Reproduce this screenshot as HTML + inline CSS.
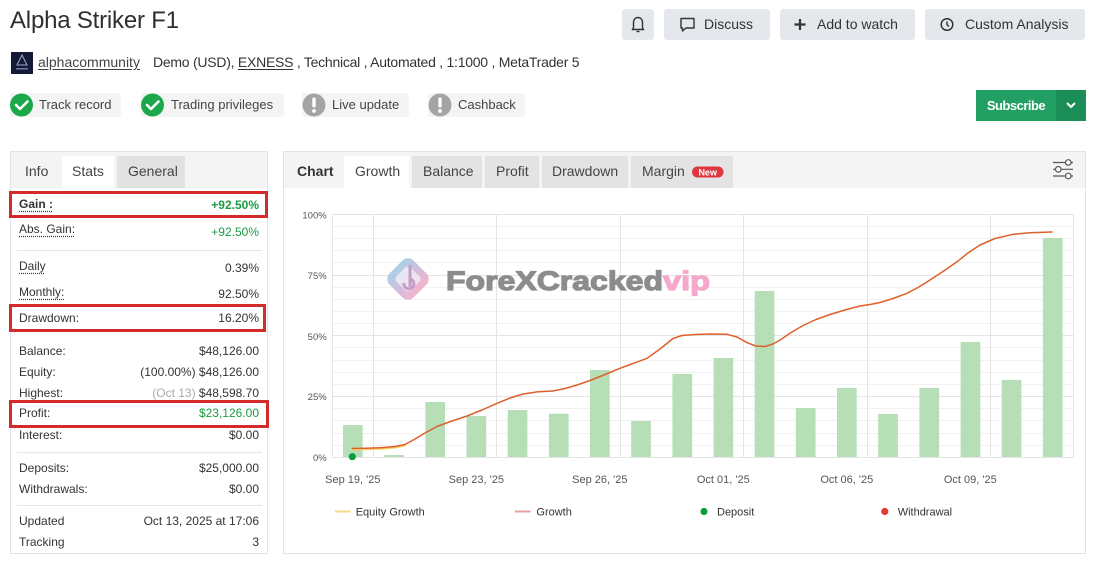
<!DOCTYPE html>
<html><head><meta charset="utf-8">
<style>
*{margin:0;padding:0;box-sizing:border-box}
body{width:1095px;height:563px;background:#fff;font-family:"Liberation Sans",Arial,sans-serif;color:#333;position:relative;overflow:hidden}
.a{position:absolute;white-space:nowrap}
.btn{position:absolute;top:9px;height:31px;background:#e4e7eb;border-radius:3px}
.bt{position:absolute;top:16px;font-size:14px;line-height:16px;color:#333}
.badge{position:absolute;top:93px;height:24px;background:#f4f4f4;border-radius:3px}
.bl{position:absolute;top:97px;font-size:13px;line-height:16px;color:#444}
.r{position:absolute;font-size:12px;line-height:16px;color:#333;white-space:nowrap}
.v{position:absolute;right:836px;font-size:12px;line-height:16px;color:#333;white-space:nowrap;text-align:right}
.dl{text-decoration:underline dotted #333;text-underline-offset:3px}
.tab{position:absolute;top:156px;height:32px}
.tt{position:absolute;top:163px;font-size:14px;line-height:16px;color:#444}
.box{position:absolute;border:3px solid #d32b2b}
.sep{position:absolute;left:17px;width:245px;height:1px;background:#e6e6e6}
</style></head><body>

<!-- Title -->
<div class="a" style="left:10px;top:6px;font-size:24px;line-height:30px;color:#2f2f2f;letter-spacing:-0.2px">Alpha Striker F1</div>

<!-- avatar -->
<div class="a" style="left:11px;top:52px;width:22px;height:22px;background:#141a36"></div>
<div class="a" style="left:38px;top:54px;font-size:14px;line-height:17px;color:#444;text-decoration:underline;text-underline-offset:2px">alphacommunity</div>
<div class="a" style="left:153px;top:54px;font-size:14px;line-height:17px;color:#333;letter-spacing:-0.25px">Demo (USD), <span style="text-decoration:underline;text-underline-offset:2px">EXNESS</span> , Technical , Automated , 1:1000 , MetaTrader 5</div>

<!-- badges -->
<div class="badge" style="left:10px;width:111px"></div>
<div class="badge" style="left:141px;width:143px"></div>
<div class="badge" style="left:302px;width:107px"></div>
<div class="badge" style="left:428px;width:97px"></div>
<div class="bl" style="left:39px">Track record</div>
<div class="bl" style="left:171px">Trading privileges</div>
<div class="bl" style="left:332px">Live update</div>
<div class="bl" style="left:458px">Cashback</div>

<!-- top right buttons -->
<div class="btn" style="left:622px;width:32px"></div>
<div class="btn" style="left:664px;width:106px"></div>
<div class="btn" style="left:780px;width:135px"></div>
<div class="btn" style="left:925px;width:160px"></div>
<div class="bt" style="left:704px">Discuss</div>
<div class="bt" style="left:817px">Add to watch</div>
<div class="bt" style="left:965px">Custom Analysis</div>

<!-- subscribe -->
<div class="a" style="left:976px;top:90px;width:110px;height:31px;background:#22a063"></div>
<div class="a" style="left:1056px;top:90px;width:30px;height:31px;background:#1b8d56"></div>
<div class="a" style="left:976px;top:97px;width:80px;text-align:center;font-size:13px;line-height:17px;font-weight:bold;color:#fff;letter-spacing:-0.5px">Subscribe</div>

<!-- left panel -->
<div class="a" style="left:10px;top:151px;width:258px;height:403px;border:1px solid #e3e3e3"></div>
<div class="a" style="left:11px;top:152px;width:256px;height:36px;background:#f4f4f4"></div>
<div class="tab" style="left:62px;width:52px;background:#fff"></div>
<div class="tab" style="left:117px;width:68px;background:#e1e1e1"></div>
<div class="tt" style="left:25px">Info</div>
<div class="tt" style="left:72px">Stats</div>
<div class="tt" style="left:128px">General</div>

<div class="r" style="left:19px;top:196px;font-weight:bold"><span class="dl">Gain :</span></div>
<div class="v" style="top:197px;font-weight:bold;color:#1a9c44">+92.50%</div>
<div class="r" style="left:19px;top:221px"><span class="dl">Abs. Gain:</span></div>
<div class="v" style="top:224px;color:#1a9c44">+92.50%</div>
<div class="sep" style="top:250px"></div>
<div class="r" style="left:19px;top:258px"><span class="dl">Daily</span></div>
<div class="v" style="top:260px">0.39%</div>
<div class="r" style="left:19px;top:284px"><span class="dl">Monthly:</span></div>
<div class="v" style="top:286px">92.50%</div>
<div class="r" style="left:19px;top:310px">Drawdown:</div>
<div class="v" style="top:310px">16.20%</div>
<div class="r" style="left:19px;top:343px">Balance:</div>
<div class="v" style="top:343px">$48,126.00</div>
<div class="r" style="left:19px;top:364px">Equity:</div>
<div class="v" style="top:364px">(100.00%) $48,126.00</div>
<div class="r" style="left:19px;top:385px">Highest:</div>
<div class="v" style="top:385px"><span style="color:#aaa">(Oct 13)</span> $48,598.70</div>
<div class="r" style="left:19px;top:405px">Profit:</div>
<div class="v" style="top:405px;color:#1a9c44">$23,126.00</div>
<div class="r" style="left:19px;top:427px">Interest:</div>
<div class="v" style="top:427px">$0.00</div>
<div class="sep" style="top:452px"></div>
<div class="r" style="left:19px;top:460px">Deposits:</div>
<div class="v" style="top:460px">$25,000.00</div>
<div class="r" style="left:19px;top:481px">Withdrawals:</div>
<div class="v" style="top:481px">$0.00</div>
<div class="sep" style="top:505px"></div>
<div class="r" style="left:19px;top:513px">Updated</div>
<div class="v" style="top:513px">Oct 13, 2025 at 17:06</div>
<div class="r" style="left:19px;top:534px">Tracking</div>
<div class="v" style="top:534px">3</div>

<div class="box" style="left:9px;top:191px;width:259px;height:27px"></div>
<div class="box" style="left:9px;top:304px;width:257px;height:28px"></div>
<div class="box" style="left:9px;top:400px;width:260px;height:28px"></div>

<!-- chart panel -->
<div class="a" style="left:283px;top:151px;width:803px;height:403px;border:1px solid #e3e3e3"></div>
<div class="a" style="left:284px;top:152px;width:801px;height:36px;background:#f4f4f4"></div>
<div class="tab" style="left:344px;width:65px;background:#fff"></div>
<div class="tab" style="left:412px;width:70px;background:#e3e3e3"></div>
<div class="tab" style="left:485px;width:54px;background:#e3e3e3"></div>
<div class="tab" style="left:542px;width:86px;background:#e3e3e3"></div>
<div class="tab" style="left:631px;width:102px;background:#e3e3e3"></div>
<div class="tt" style="left:297px;font-weight:bold;color:#333">Chart</div>
<div class="tt" style="left:355px">Growth</div>
<div class="tt" style="left:423px">Balance</div>
<div class="tt" style="left:496px">Profit</div>
<div class="tt" style="left:552px">Drawdown</div>
<div class="tt" style="left:642px">Margin</div>

<svg class="a" style="left:0;top:0" width="1095" height="563" viewBox="0 0 1095 563" xmlns="http://www.w3.org/2000/svg" font-family="Liberation Sans, Arial, sans-serif">
  <defs>
    <linearGradient id="lg" x1="0" y1="0" x2="1" y2="0">
      <stop offset="0" stop-color="#9cc9e4"/>
      <stop offset="0.5" stop-color="#c9b3d6"/>
      <stop offset="1" stop-color="#f2a7c6"/>
    </linearGradient>
  </defs>

  <!-- badge icons -->
  <circle cx="21.5" cy="105" r="11.5" fill="#1ba84a"/>
  <path d="M16 105 l4 4 l7.5 -7.5" stroke="#fff" stroke-width="2.6" fill="none" stroke-linecap="round" stroke-linejoin="round"/>
  <circle cx="152.5" cy="105" r="11.5" fill="#1ba84a"/>
  <path d="M147 105 l4 4 l7.5 -7.5" stroke="#fff" stroke-width="2.6" fill="none" stroke-linecap="round" stroke-linejoin="round"/>
  <circle cx="314" cy="105" r="11.5" fill="#a4a4a4"/>
  <rect x="312.3" y="97.5" width="3.4" height="10" rx="1.5" fill="#fff"/>
  <circle cx="314" cy="111" r="1.9" fill="#fff"/>
  <circle cx="440" cy="105" r="11.5" fill="#a4a4a4"/>
  <rect x="438.3" y="97.5" width="3.4" height="10" rx="1.5" fill="#fff"/>
  <circle cx="440" cy="111" r="1.9" fill="#fff"/>

  <!-- avatar glyph -->
  <path d="M22 55 l-5 10 h10 z" fill="none" stroke="#9aa6d8" stroke-width="1"/>
  <rect x="16" y="68" width="12" height="1.5" fill="#6f7aa8"/>

  <!-- button icons -->
  <path d="M633.5 28 v-6 a4.5 4.5 0 0 1 9 0 v6 l1.2 1.5 h-11.4 z" fill="none" stroke="#333" stroke-width="1.4" stroke-linejoin="round"/>
  <path d="M636.5 31.5 h3" stroke="#333" stroke-width="1.4"/>
  <path d="M681 18.5 h13 v9.5 h-8 l-3.5 3 v-3 h-1.5 z" fill="none" stroke="#333" stroke-width="1.4" stroke-linejoin="round"/>
  <path d="M800 19 v11 M794.5 24.5 h11" stroke="#333" stroke-width="2.2"/>
  <circle cx="947" cy="24.5" r="5.8" fill="none" stroke="#333" stroke-width="1.5"/>
  <path d="M947 21.5 v3.3 l2 1.6" fill="none" stroke="#333" stroke-width="1.4"/>
  <!-- subscribe chevron -->
  <path d="M1067 103 l4 4 l4 -4" fill="none" stroke="#fff" stroke-width="2"/>

  <!-- New pill -->
  <rect x="692" y="166.5" width="31.5" height="11" rx="5.5" fill="#e0363f"/>
  <text x="707.7" y="175.5" font-size="9" font-weight="bold" fill="#fff" text-anchor="middle">New</text>

  <!-- filter icon -->
  <g stroke="#555" stroke-width="1.2" fill="#fff">
    <path d="M1053 162.5 h20 M1053 169.3 h20 M1053 176 h20"/>
    <circle cx="1068.3" cy="162.5" r="2.8"/>
    <circle cx="1058.3" cy="169.3" r="2.8"/>
    <circle cx="1068.3" cy="176" r="2.8"/>
  </g>

  <!-- grid minor -->
  <g stroke="#f1f1f1" stroke-width="1">
    <path d="M332 226.5H1073M332 238.5H1073M332 250.5H1073M332 262.5H1073M332 287.5H1073M332 299.5H1073M332 311.5H1073M332 323.5H1073M332 347.5H1073M332 360.5H1073M332 372.5H1073M332 384.5H1073M332 408.5H1073M332 420.5H1073M332 433.5H1073M332 445.5H1073"/>
  </g>
  <g stroke="#e4e4e4" stroke-width="1">
    <path d="M332 214.5H1073.5M332 275.5H1073M332 335.5H1073M332 396.5H1073M332 457.5H1073.5"/>
    <path d="M332.5 214V458M1073.5 214V458M373.5 214V458M496.5 214V458M620.5 214V458M743.5 214V458M867.5 214V458M990.5 214V458"/>
  </g>

  <!-- watermark -->
  <g opacity="0.85">
    <rect x="391" y="262" width="34" height="34" rx="8" transform="rotate(45 408 279)" fill="url(#lg)"/>
    <rect x="398" y="269" width="20" height="20" rx="4" transform="rotate(45 408 279)" fill="#fff" opacity="0.6"/>
    <path d="M410 265 v22 M404 283 a5 5 0 1 0 6 -4" fill="none" stroke="#b890c0" stroke-width="3"/>
  </g>
  <text x="446" y="290" font-size="27" font-weight="bold" fill="#8c8c8c" stroke="#8c8c8c" stroke-width="1.2" textLength="217" lengthAdjust="spacingAndGlyphs">ForeXCracked</text>
  <text x="663" y="290" font-size="27" font-weight="bold" fill="#f5a8cc" stroke="#f5a8cc" stroke-width="1.2" textLength="47" lengthAdjust="spacingAndGlyphs">vip</text>

  <!-- bars -->
  <g fill="#b6dfb8">
    <rect x="343.0" y="425" width="19.7" height="32"/>
    <rect x="384.2" y="455" width="19.7" height="2"/>
    <rect x="425.3" y="402" width="19.7" height="55"/>
    <rect x="466.5" y="416" width="19.7" height="41"/>
    <rect x="507.7" y="410" width="19.7" height="47"/>
    <rect x="548.9" y="413.7" width="19.7" height="43.3"/>
    <rect x="590.0" y="370" width="19.7" height="87"/>
    <rect x="631.2" y="421" width="19.7" height="36"/>
    <rect x="672.4" y="374" width="19.7" height="83"/>
    <rect x="713.5" y="358" width="19.7" height="99"/>
    <rect x="754.7" y="291" width="19.7" height="166"/>
    <rect x="795.9" y="408" width="19.7" height="49"/>
    <rect x="837.0" y="388" width="19.7" height="69"/>
    <rect x="878.2" y="414" width="19.7" height="43"/>
    <rect x="919.4" y="388" width="19.7" height="69"/>
    <rect x="960.6" y="342" width="19.7" height="115"/>
    <rect x="1001.7" y="380" width="19.7" height="77"/>
    <rect x="1042.9" y="238" width="19.7" height="219"/>
  </g>

  <!-- equity (yellow) start -->
  <polyline points="352.3,449.5 365,449.3 380,448.8 395,447.5 405,445.5" fill="none" stroke="#f5d36a" stroke-width="2"/>
  <!-- growth line -->
  <polyline fill="none" stroke="#df5f2a" stroke-width="1.5" stroke-linejoin="round" stroke-linecap="round"
    points="352.3,448.5 365,448.3 380,447.8 395,446.5 405,444.5 415,439 425,433 437,426.5 452,421 467,416 482,410 497,403.3 510,398 523,394 538,391.7 553,391 565,388.5 577,385 590,380.5 605,374.5 620,368.3 633,363.5 647,358.3 660,349 673,338.5 682,335.5 695,334.5 710,334 727,334.3 737,337 747,342.7 756,346 765,346.5 773,344 780,340 792,332 803,325.5 816,319.5 830,314.5 845,310 860,306 870,304.5 880,302.5 893,298.5 907,293.3 918,287.5 930,280 943,271.5 957,261.8 968,253 980,245 995,238.5 1013,234.3 1030,232.8 1052,232"/>
  <!-- deposit dot -->
  <circle cx="352.3" cy="456.7" r="3.6" fill="#0a9e3a"/>

  <!-- y labels -->
  <g font-size="9.5" fill="#555" text-anchor="end">
    <text x="326.7" y="218.4">100%</text>
    <text x="326.7" y="279.1">75%</text>
    <text x="326.7" y="340.1">50%</text>
    <text x="326.7" y="400.1">25%</text>
    <text x="326.7" y="461.1">0%</text>
  </g>
  <!-- x labels -->
  <g font-size="11" fill="#555" text-anchor="middle">
    <text x="352.8" y="483.2">Sep 19, '25</text>
    <text x="476.3" y="483.2">Sep 23, '25</text>
    <text x="599.8" y="483.2">Sep 26, '25</text>
    <text x="723.3" y="483.2">Oct 01, '25</text>
    <text x="846.8" y="483.2">Oct 06, '25</text>
    <text x="970.3" y="483.2">Oct 09, '25</text>
  </g>

  <!-- legend -->
  <path d="M335 511.5 h15.5" stroke="#f5d98a" stroke-width="2"/>
  <path d="M515 511.5 h15.5" stroke="#e4a3a3" stroke-width="2"/>
  <circle cx="704" cy="511.5" r="3.6" fill="#0a9e3a"/>
  <circle cx="884.8" cy="511.5" r="3.6" fill="#e53935"/>
  <g font-size="11" fill="#333">
    <text x="355.7" y="515.3">Equity Growth</text>
    <text x="536.4" y="515.3">Growth</text>
    <text x="717" y="515.3">Deposit</text>
    <text x="897.7" y="515.3">Withdrawal</text>
  </g>
</svg>
</body></html>
